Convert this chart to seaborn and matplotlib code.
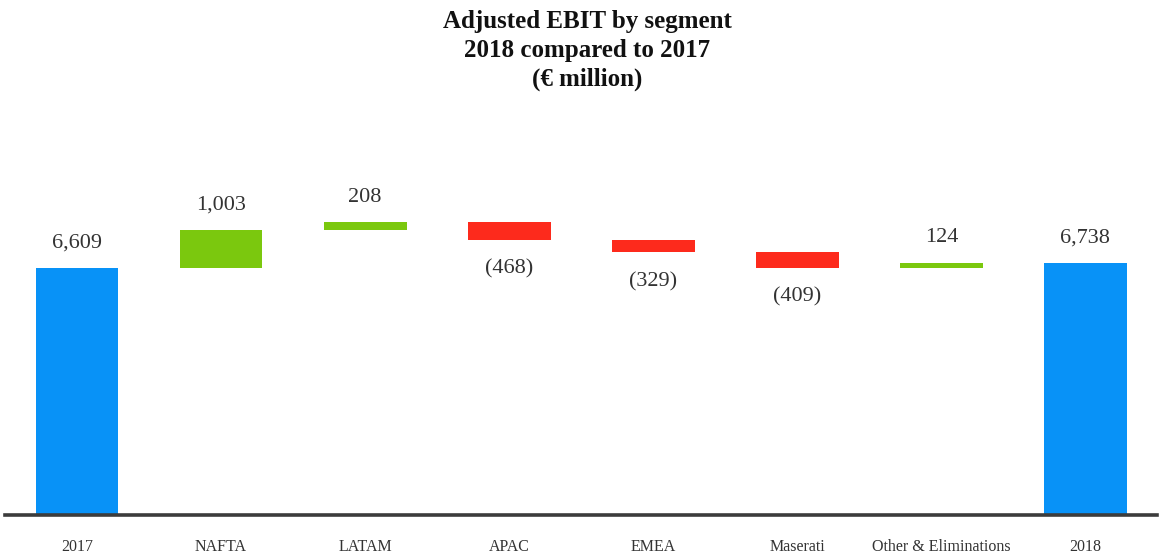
import numpy as np
import pandas as pd
import matplotlib
matplotlib.use("Agg")
import matplotlib.pyplot as plt
import seaborn as sns

# Adjusted EBIT walk, € million
categories = ["2017", "NAFTA", "LATAM", "APAC", "EMEA", "Maserati",
              "Other & Eliminations", "2018"]
start_value = 6609
segment_changes = [1003, 208, -468, -329, -409, 124]
end_value = 6738
value_labels = ["6,609", "1,003", "208", "(468)", "(329)", "(409)", "124", "6,738"]

BLUE = "#0892F7"
GREEN = "#7BC80E"
RED = "#FD2A1C"

# Floating bars: bottom and height of each step
bottoms = [0]
heights = [start_value]
running = start_value
for ch in segment_changes:
    if ch >= 0:
        bottoms.append(running)
        heights.append(ch)
    else:
        bottoms.append(running + ch)
        heights.append(-ch)
    running += ch
bottoms.append(0)
heights.append(end_value)
colors = [BLUE] + [GREEN if c >= 0 else RED for c in segment_changes] + [BLUE]

df = pd.DataFrame({"category": categories, "height": heights, "bottom": bottoms})

sns.set_theme(style="white")
plt.rcParams["font.family"] = ["Liberation Serif", "DejaVu Serif"]

fig = plt.figure(figsize=(11.59, 5.60), dpi=100)
ax = fig.add_axes([0.0043, 0.0804, 0.9943, 0.668])

sns.barplot(data=df, x="category", y="height", bottom=df["bottom"].to_numpy(),
            order=categories, width=0.575, color=BLUE, errorbar=None,
            linewidth=0, ax=ax)
for patch, c in zip(ax.patches, colors):
    patch.set_facecolor(c)
    patch.set_edgecolor("none")

ax.set_xlim(-0.5, 7.5)
ax.set_ylim(0, 10000)

# Value labels: above for increases and totals, below for decreases
changes_all = [start_value] + segment_changes + [end_value]
for i, (b, h, ch, lab) in enumerate(zip(bottoms, heights, changes_all, value_labels)):
    if ch >= 0:
        ax.annotate(lab, (i, b + h), xytext=(0, 18), textcoords="offset points",
                    ha="center", va="center", fontsize=16, color="#333333")
    else:
        ax.annotate(lab, (i, b), xytext=(0, -21), textcoords="offset points",
                    ha="center", va="center", fontsize=16, color="#333333")

for side in ["left", "right", "top"]:
    ax.spines[side].set_visible(False)
ax.spines["bottom"].set_color("#3c3c3c")
ax.spines["bottom"].set_linewidth(2.6)
ax.set_yticks([])
ax.set_xlabel("")
ax.set_ylabel("")
ax.tick_params(axis="x", length=0, pad=17, labelsize=11.5, labelcolor="#333333")

fig.text(0.5065, 0.982, "Adjusted EBIT by segment\n2018 compared to 2017\n(€ million)",
         ha="center", va="top", fontsize=18, fontweight="bold", color="#111111",
         linespacing=1.33)

fig.savefig("out.png", dpi=100, facecolor="white")
